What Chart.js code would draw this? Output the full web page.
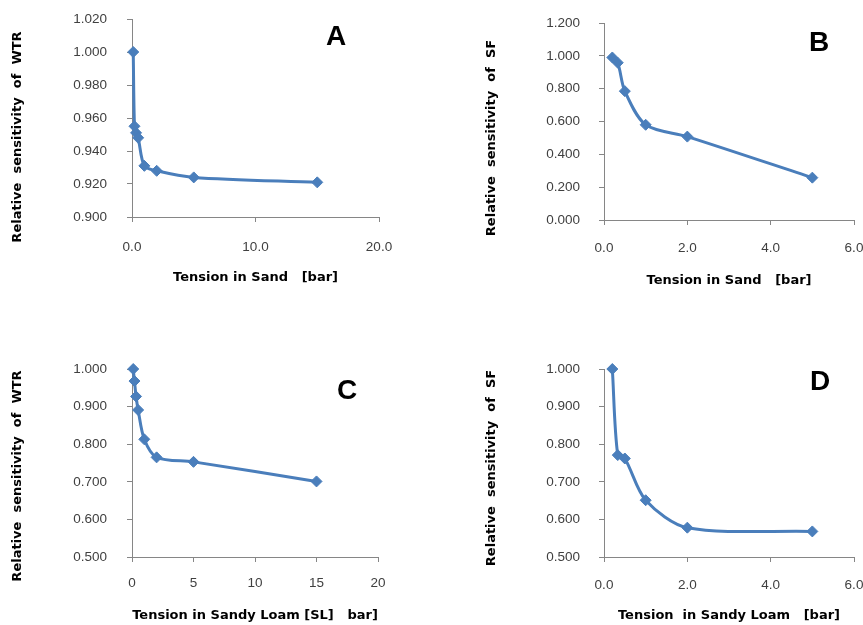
<!DOCTYPE html>
<html>
<head>
<meta charset="utf-8">
<script src="https://cdn.jsdelivr.net/npm/chart.js@4/dist/chart.umd.min.js"></script>
<style>
  body { margin: 0; background: #fff; }
  #wrap { position: relative; width: 863px; height: 625px; overflow: hidden; }
  #wrap canvas { position: absolute; }
</style>
</head>
<body>
<div id="wrap">
  <canvas id="chartA" style="left:0;top:0"></canvas>
  <canvas id="chartB" style="left:430px;top:0"></canvas>
  <canvas id="chartC" style="left:0;top:320px"></canvas>
  <canvas id="chartD" style="left:430px;top:320px"></canvas>
</div>
<script>
// panel A: WTR in sand
const tensionA = [0.1, 0.2, 0.33, 0.5, 1, 2, 5, 15];
const sensA = [1.000, 0.955, 0.951, 0.948, 0.931, 0.928, 0.924, 0.921];
// panel B: SF in sand
const tensionB = [0.2, 0.33, 0.5, 1, 2, 5];
const sensB = [0.990, 0.958, 0.785, 0.580, 0.508, 0.258];
// panel C: WTR in sandy loam
const tensionC = [0.1, 0.2, 0.33, 0.5, 1, 2, 5, 15];
const sensC = [1.000, 0.968, 0.927, 0.891, 0.813, 0.765, 0.753, 0.701];
// panel D: SF in sandy loam
const tensionD = [0.2, 0.33, 0.5, 1, 2, 5];
const sensD = [1.000, 0.771, 0.762, 0.651, 0.578, 0.568];

const xTicksA = [0, 10, 20];
const xTicksB = [0, 2, 4, 6];
const xTicksC = [0, 5, 10, 15, 20];
const xTicksD = [0, 2, 4, 6];

const yTicksA = [0.900, 0.920, 0.940, 0.960, 0.980, 1.000, 1.020];
const yTicksB = [0.000, 0.200, 0.400, 0.600, 0.800, 1.000, 1.200];
const yTicksC = [0.500, 0.600, 0.700, 0.800, 0.900, 1.000];
const yTicksD = [0.500, 0.600, 0.700, 0.800, 0.900, 1.000];

const BLUE = "#4A7EBB";
const AXIS = "#868686";
const LABEL = "#404040";
const TICK_FONT = "'Liberation Sans', Arial, sans-serif";
const TITLE_FONT = "'DejaVu Sans', Verdana, sans-serif";

// panel letter and the rotated y title (Excel puts it a bit below the plot centre)
const annotPlugin = {
  id: "annot",
  afterDraw(chart, args, opts) {
    const ctx = chart.ctx;
    ctx.save();
    ctx.font = "bold 28px " + TICK_FONT;
    ctx.fillStyle = "#000";
    ctx.textAlign = "center";
    ctx.textBaseline = "middle";
    ctx.fillText(opts.letter, opts.lx, opts.ly);

    ctx.font = "bold 13px " + TITLE_FONT;
    ctx.translate(opts.tx, opts.ty);
    ctx.rotate(-Math.PI / 2);
    ctx.fillText(opts.yTitle, 0, 0);
    ctx.restore();
  },
};

function makePanel(id, cfg) {
  const canvas = document.getElementById(id);
  canvas.width = cfg.w;
  canvas.height = cfg.h;
  canvas.style.width = cfg.w + "px";
  canvas.style.height = cfg.h + "px";

  const points = cfg.xs.map((x, i) => ({ x, y: cfg.ys[i] }));

  return new Chart(canvas, {
    type: "line",
    data: {
      datasets: [
        {
          data: points,
          borderColor: BLUE,
          backgroundColor: BLUE,
          borderWidth: 3,
          pointStyle: "rectRot",
          pointRadius: 5.5,
          pointBackgroundColor: BLUE,
          pointBorderColor: BLUE,
          pointBorderWidth: 1,
          tension: 0.3,
          clip: false,
        },
      ],
    },
    options: {
      responsive: false,
      animation: false,
      events: [],
      layout: {
        autoPadding: false,
        padding: { left: 0, top: cfg.top, right: cfg.w - cfg.right, bottom: 0 },
      },
      plugins: {
        legend: { display: false },
        tooltip: { enabled: false },
        annot: cfg.annot,
      },
      scales: {
        x: {
          type: "linear",
          min: cfg.xTicks[0],
          max: cfg.xTicks[cfg.xTicks.length - 1],
          afterFit: (s) => {
            s.height = cfg.h - cfg.bottom;
            s.paddingLeft = 0;
            s.paddingRight = 0;
          },
          afterBuildTicks: (s) => { s.ticks = cfg.xTicks.map((v) => ({ value: v })); },
          ticks: {
            color: LABEL,
            font: { family: TICK_FONT, size: 13.5 },
            padding: cfg.xTickPad,
            maxRotation: 0,
            autoSkip: false,
            callback: (v) => cfg.xFmt(v),
          },
          grid: { drawOnChartArea: false, drawTicks: true, tickLength: 5, color: AXIS },
          border: { color: AXIS, width: 1 },
          title: {
            display: true,
            text: cfg.xTitle,
            color: "#000",
            font: { family: TITLE_FONT, size: 13, weight: "bold" },
            padding: { top: 0, bottom: cfg.xTitlePad },
          },
        },
        y: {
          type: "linear",
          min: cfg.yTicks[0],
          max: cfg.yTicks[cfg.yTicks.length - 1],
          afterFit: (s) => {
            s.width = cfg.left;
            s.paddingTop = 0;
            s.paddingBottom = 0;
          },
          afterBuildTicks: (s) => { s.ticks = cfg.yTicks.map((v) => ({ value: v })); },
          ticks: {
            color: LABEL,
            font: { family: TICK_FONT, size: 13.5 },
            padding: cfg.yTickPad,
            autoSkip: false,
            callback: (v) => v.toFixed(3),
          },
          grid: { drawOnChartArea: false, drawTicks: true, tickLength: 5, color: AXIS },
          border: { color: AXIS, width: 1 },
        },
      },
    },
    plugins: [annotPlugin],
  });
}

const oneDec = (v) => v.toFixed(1);
const noDec = (v) => String(v);

makePanel("chartA", {
  w: 430, h: 310, left: 132, top: 19, right: 379, bottom: 217,
  xs: tensionA, ys: sensA, xTicks: xTicksA, yTicks: yTicksA, xFmt: oneDec,
  xTickPad: 17, yTickPad: 20, xTitlePad: 25,
  xTitle: "Tension in Sand   [bar]",
  annot: { letter: "A", lx: 336, ly: 37, yTitle: "Relative  sensitivity  of  WTR", tx: 18, ty: 137 },
});

makePanel("chartB", {
  w: 433, h: 310, left: 174, top: 23, right: 424, bottom: 220,
  xs: tensionB, ys: sensB, xTicks: xTicksB, yTicks: yTicksB, xFmt: oneDec,
  xTickPad: 15, yTickPad: 19, xTitlePad: 22,
  xTitle: "Tension in Sand   [bar]",
  annot: { letter: "B", lx: 389, ly: 43, yTitle: "Relative  sensitivity  of  SF", tx: 62, ty: 138 },
});

makePanel("chartC", {
  w: 430, h: 305, left: 132, top: 49, right: 378, bottom: 237,
  xs: tensionC, ys: sensC, xTicks: xTicksC, yTicks: yTicksC, xFmt: noDec,
  xTickPad: 13.5, yTickPad: 20, xTitlePad: 2,
  xTitle: "Tension in Sandy Loam [SL]   bar]",
  annot: { letter: "C", lx: 347, ly: 71, yTitle: "Relative  sensitivity  of  WTR", tx: 18, ty: 156 },
});

makePanel("chartD", {
  w: 433, h: 305, left: 174, top: 49, right: 424, bottom: 237,
  xs: tensionD, ys: sensD, xTicks: xTicksD, yTicks: yTicksD, xFmt: oneDec,
  xTickPad: 15, yTickPad: 19, xTitlePad: 2,
  xTitle: "Tension  in Sandy Loam   [bar]",
  annot: { letter: "D", lx: 390, ly: 62, yTitle: "Relative  sensitivity  of  SF", tx: 62, ty: 148 },
});
</script>
</body>
</html>
